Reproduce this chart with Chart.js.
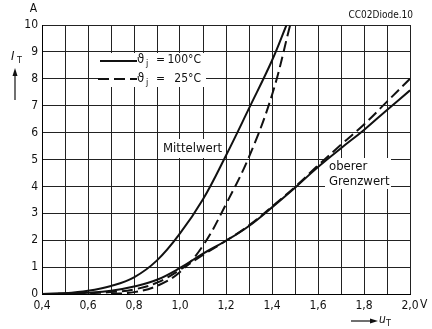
<!DOCTYPE html>
<html><head><meta charset="utf-8">
<script src="https://cdn.jsdelivr.net/npm/chart.js@4"></script>
<style>html,body{margin:0;padding:0;background:#fff}</style>
</head><body>
<canvas id="c" width="432" height="329"></canvas>
<script>
// Durchlasskennlinien I_T = f(u_T): Mittelwert und oberer Grenzwert, je bei 100 °C und 25 °C
const uMittel100 = [0.40, 0.50, 0.60, 0.70, 0.80, 0.90, 1.00, 1.10, 1.20, 1.30, 1.40, 1.463];
const iMittel100 = [0, 0.03, 0.12, 0.30, 0.62, 1.25, 2.25, 3.52, 5.15, 6.90, 8.68, 10];

const uMittel25 = [0.70, 0.80, 0.90, 1.00, 1.10, 1.20, 1.30, 1.40, 1.479];
const iMittel25 = [0, 0.07, 0.30, 0.82, 1.80, 3.34, 5.10, 7.40, 10];

const uGrenz = [0.40, 0.50, 0.60, 0.70, 0.80, 0.90, 1.00, 1.10, 1.20, 1.30, 1.40, 1.50, 1.60, 1.70, 1.80, 1.90, 2.00];
const iGrenz100 = [0, 0.02, 0.05, 0.12, 0.28, 0.53, 0.97, 1.50, 1.98, 2.53, 3.22, 3.95, 4.72, 5.42, 6.10, 6.84, 7.57];
const iGrenz25  = [0, 0.01, 0.03, 0.07, 0.17, 0.42, 0.90, 1.45, 1.98, 2.55, 3.25, 3.98, 4.78, 5.55, 6.30, 7.15, 8.00];

const xTickLabels = ['0,4', '0,6', '0,8', '1,0', '1,2', '1,4', '1,6', '1,8', '2,0'];
const yTickLabels = ['0', '1', '2', '3', '4', '5', '6', '7', '8', '9', '10'];

const FONT = "'Liberation Sans Narrow','DejaVu Sans Condensed','Liberation Sans',sans-serif";
const INK = '#111';
const DASH = [11, 5];

const pts = (u, i) => u.map((v, k) => ({ x: v, y: i[k] }));

function curve(u, i, dashed) {
  return {
    data: pts(u, i),
    showLine: true,
    borderColor: INK,
    borderWidth: 2,
    borderDash: dashed ? DASH : [],
    pointRadius: 0,
    tension: 0.4,
    fill: false
  };
}

// Beschriftungen, Legende und Achsenpfeile
const notes = {
  id: 'notes',
  beforeDatasetsDraw(chart) {
    const c = chart.ctx;
    c.save();
    // freigestellte Flächen im Raster
    c.fillStyle = '#fff';
    c.fillRect(98, 53, 108, 34);
    c.fillRect(160, 139, 63, 19);
    c.fillRect(325, 158, 66, 31);

    c.fillStyle = INK;
    c.strokeStyle = INK;
    c.textBaseline = 'middle';

    // Legende
    c.lineWidth = 2;
    c.beginPath(); c.moveTo(100, 61); c.lineTo(137, 61); c.stroke();
    c.setLineDash(DASH);
    c.beginPath(); c.moveTo(98, 79); c.lineTo(137, 79); c.stroke();
    c.setLineDash([]);

    const legendRow = (y, val) => {
      c.textAlign = 'left';
      c.font = '13px ' + FONT;
      c.fillText('\u03D1', 137, y);
      c.font = '9px ' + FONT;
      c.fillText('j', 146, y + 4);
      c.font = '12px ' + FONT;
      c.fillText('=', 156, y);
      c.textAlign = 'right';
      c.fillText(val, 201, y);
    };
    legendRow(60, '100\u00B0C');
    legendRow(79, '25\u00B0C');

    c.textAlign = 'left';
    c.font = '13px ' + FONT;
    c.fillText('Mittelwert', 163, 149);
    c.fillText('oberer', 329, 167);
    c.fillText('Grenzwert', 329, 182);
    c.restore();
  },
  afterDraw(chart) {
    const c = chart.ctx;
    c.save();
    c.fillStyle = INK;
    c.strokeStyle = INK;
    c.textBaseline = 'middle';

    c.font = '10px ' + FONT;
    c.textAlign = 'right';
    c.fillText('CC02Diode.10', 413, 15);

    c.font = '12px ' + FONT;
    c.textAlign = 'center';
    c.fillText('A', 33.5, 9);
    c.textAlign = 'left';
    c.fillText('V', 420, 305);

    // Ordinate: I_T mit Pfeil
    c.font = 'italic 13px ' + FONT;
    c.fillText('I', 11, 57);
    c.font = '9px ' + FONT;
    c.fillText('T', 17, 61);
    c.lineWidth = 1.2;
    c.beginPath(); c.moveTo(15, 100); c.lineTo(15, 74); c.stroke();
    c.beginPath(); c.moveTo(15, 68); c.lineTo(12.5, 76); c.lineTo(17.5, 76); c.closePath(); c.fill();

    // Abszisse: u_T mit Pfeil
    c.beginPath(); c.moveTo(351, 321); c.lineTo(371, 321); c.stroke();
    c.beginPath(); c.moveTo(378, 321); c.lineTo(370, 318.5); c.lineTo(370, 323.5); c.closePath(); c.fill();
    c.font = 'italic 12px ' + FONT;
    c.fillText('u', 379, 320);
    c.font = '9px ' + FONT;
    c.fillText('T', 386, 324);
    c.restore();
  }
};

new Chart(document.getElementById('c'), {
  type: 'scatter',
  data: {
    datasets: [
      curve(uMittel100, iMittel100, false),
      curve(uMittel25, iMittel25, true),
      curve(uGrenz, iGrenz100, false),
      curve(uGrenz, iGrenz25, true)
    ]
  },
  options: {
    responsive: false,
    animation: false,
    layout: { padding: { top: 25, right: 22, left: 0, bottom: 0 } },
    plugins: { legend: { display: false }, tooltip: { enabled: false } },
    scales: {
      x: {
        type: 'linear', min: 0.4, max: 2.0,
        afterBuildTicks: s => { s.ticks = Array.from({ length: 17 }, (_, k) => ({ value: 0.4 + k * 0.1 })); },
        afterFit: s => { s.height = 35; },
        ticks: {
          autoSkip: false, maxRotation: 0, padding: 5, color: INK,
          font: { family: FONT, size: 12 },
          callback: (v) => {
            const k = Math.round((v - 0.4) * 10);
            return k % 2 === 0 ? xTickLabels[k / 2] : '';
          }
        },
        grid: { color: '#222', lineWidth: 1, drawTicks: false },
        border: { color: '#000', width: 1 }
      },
      y: {
        min: 0, max: 10,
        afterBuildTicks: s => { s.ticks = yTickLabels.map((_, k) => ({ value: k })); },
        afterFit: s => { s.width = 42; },
        ticks: {
          padding: 4, color: INK,
          font: { family: FONT, size: 12 },
          callback: (v) => yTickLabels[Math.round(v)]
        },
        grid: { color: '#222', lineWidth: 1, drawTicks: false },
        border: { color: '#000', width: 1 }
      }
    }
  },
  plugins: [notes]
});
</script>
</body></html>
